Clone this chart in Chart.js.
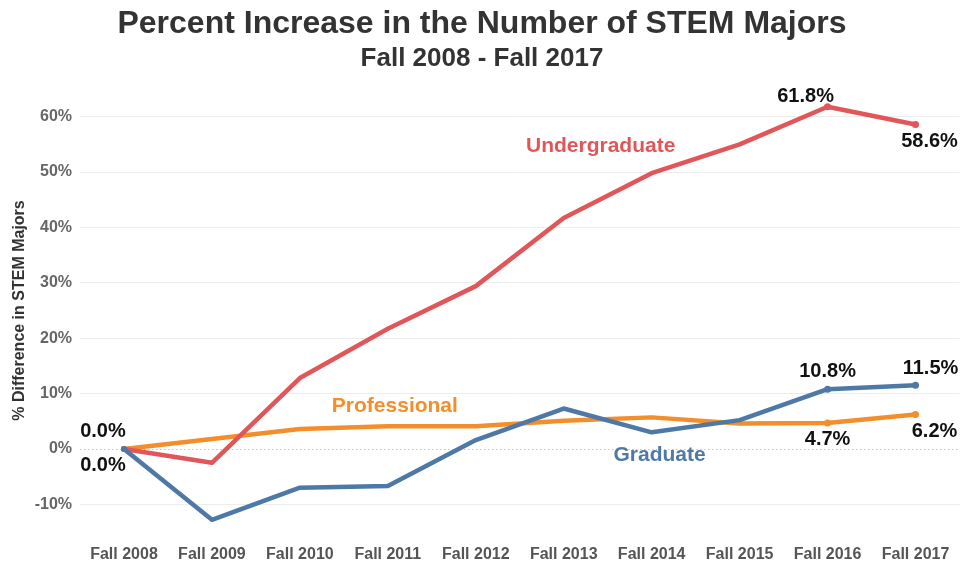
<!DOCTYPE html>
<html>
<head>
<meta charset="utf-8">
<script src="https://cdn.jsdelivr.net/npm/chart.js@4.4.1/dist/chart.umd.min.js"></script>
<style>
  html, body { margin: 0; padding: 0; background: #fff; }
  #wrap { width: 963px; height: 564px; position: relative; }
</style>
</head>
<body>
<div id="wrap"><canvas id="c" width="963" height="564"></canvas></div>
<script>
const categories = ["Fall 2008","Fall 2009","Fall 2010","Fall 2011","Fall 2012","Fall 2013","Fall 2014","Fall 2015","Fall 2016","Fall 2017"];
const undergraduate = [0.0, -2.5, 12.8, 21.7, 29.4, 41.7, 49.8, 55.0, 61.8, 58.6];
const graduate      = [0.0, -12.8, -7.0, -6.7, 1.6, 7.3, 3.0, 5.2, 10.8, 11.5];
const professional  = [0.0, 1.8, 3.6, 4.1, 4.1, 5.1, 5.7, 4.6, 4.7, 6.2];
const yTicks = [-10, 0, 10, 20, 30, 40, 50, 60];

const COLORS = { Undergraduate: "#E15759", Graduate: "#4E79A7", Professional: "#F28E2B" };
const FONT = "'Liberation Sans', Arial, sans-serif";

// label placement (style only: pixel offsets relative to the point)
const pointLabels = [
  { series: "Professional", idx: 0, dx: -21, dy: -17 },
  { series: "Graduate", idx: 0, dx: -21, dy: 17 },
  { series: "Undergraduate", idx: 8, dx: -22, dy: -10 },
  { series: "Undergraduate", idx: 9, dx: 14, dy: 17 },
  { series: "Graduate", idx: 8, dx: 0, dy: -18 },
  { series: "Graduate", idx: 9, dx: 15, dy: -17 },
  { series: "Professional", idx: 8, dx: 0, dy: 17 },
  { series: "Professional", idx: 9, dx: 19, dy: 17 }
];
// series name annotations (category-index position, value)
const seriesNames = [
  { series: "Undergraduate", x: 5.42, y: 54.7 },
  { series: "Professional", x: 3.08, y: 7.8 },
  { series: "Graduate", x: 6.09, y: -1.1 }
];

const ptRadius = [3,0,0,0,0,0,0,0,3.5,3.5];

function ds(label, data) {
  return {
    label, data,
    borderColor: COLORS[label], backgroundColor: COLORS[label],
    borderWidth: 4.5, tension: 0,
    borderCapStyle: "round", borderJoinStyle: "round",
    pointRadius: ptRadius, pointHoverRadius: ptRadius, pointBorderWidth: 0
  };
}

const overlay = {
  id: "overlay",
  beforeDatasetsDraw(chart) {
    const { ctx, chartArea, scales } = chart;
    const y0 = scales.y.getPixelForValue(0);
    ctx.save();
    ctx.strokeStyle = "#c4c4c4";
    ctx.lineWidth = 1;
    ctx.setLineDash([1.5, 2.5]);
    ctx.beginPath();
    ctx.moveTo(chartArea.left, Math.round(y0) + 0.5);
    ctx.lineTo(chartArea.right, Math.round(y0) + 0.5);
    ctx.stroke();
    ctx.restore();
  },
  afterDatasetsDraw(chart) {
    const { ctx, scales } = chart;
    ctx.save();
    // titles
    ctx.fillStyle = "#333333";
    ctx.textAlign = "center";
    ctx.textBaseline = "middle";
    ctx.font = "bold 32px " + FONT;
    ctx.fillText("Percent Increase in the Number of STEM Majors", 482, 24);
    ctx.font = "bold 26px " + FONT;
    ctx.fillText("Fall 2008 - Fall 2017", 482, 59);

    // series names
    ctx.font = "bold 21px " + FONT;
    seriesNames.forEach(s => {
      ctx.fillStyle = COLORS[s.series];
      ctx.fillText(s.series, scales.x.getPixelForValue(s.x), scales.y.getPixelForValue(s.y));
    });

    // data labels
    const byName = {};
    chart.data.datasets.forEach(d => byName[d.label] = d.data);
    ctx.fillStyle = "#111111";
    ctx.font = "bold 20px " + FONT;
    pointLabels.forEach(l => {
      const v = byName[l.series][l.idx];
      const px = scales.x.getPixelForValue(l.idx) + l.dx;
      const py = scales.y.getPixelForValue(v) + l.dy;
      ctx.fillText(v.toFixed(1) + "%", px, py);
    });
    ctx.restore();
  }
};

new Chart(document.getElementById("c"), {
  type: "line",
  data: {
    labels: categories,
    datasets: [ds("Graduate", graduate), ds("Undergraduate", undergraduate), ds("Professional", professional)]
  },
  options: {
    responsive: false,
    animation: false,
    events: [],
    layout: { padding: { top: 89, right: 1, left: 0, bottom: 0 } },
    plugins: { legend: { display: false }, tooltip: { enabled: false } },
    scales: {
      x: {
        offset: true,
        grid: { display: false, drawTicks: false },
        border: { display: false },
        ticks: { color: "#555555", font: { family: FONT, size: 16, weight: "bold" }, padding: 13, maxRotation: 0, autoSkip: false },
        afterFit(s) { s.height = 32; }
      },
      y: {
        min: -15, max: 65,
        afterBuildTicks(s) { s.ticks = yTicks.map(v => ({ value: v })); },
        grid: { drawTicks: false, color: ctx => (ctx.tick && ctx.tick.value === 0) ? "rgba(0,0,0,0)" : "#ececec", lineWidth: 1 },
        border: { display: false },
        ticks: { color: "#666666", font: { family: FONT, size: 16, weight: "bold" }, padding: 8, callback: v => v + "%" },
        title: { display: true, text: "% Difference in STEM Majors", color: "#333333", font: { family: FONT, size: 16, weight: "bold" }, padding: { top: 10, bottom: 4 } },
        afterFit(s) { s.width = 80; }
      }
    }
  },
  plugins: [overlay]
});
</script>
</body>
</html>
